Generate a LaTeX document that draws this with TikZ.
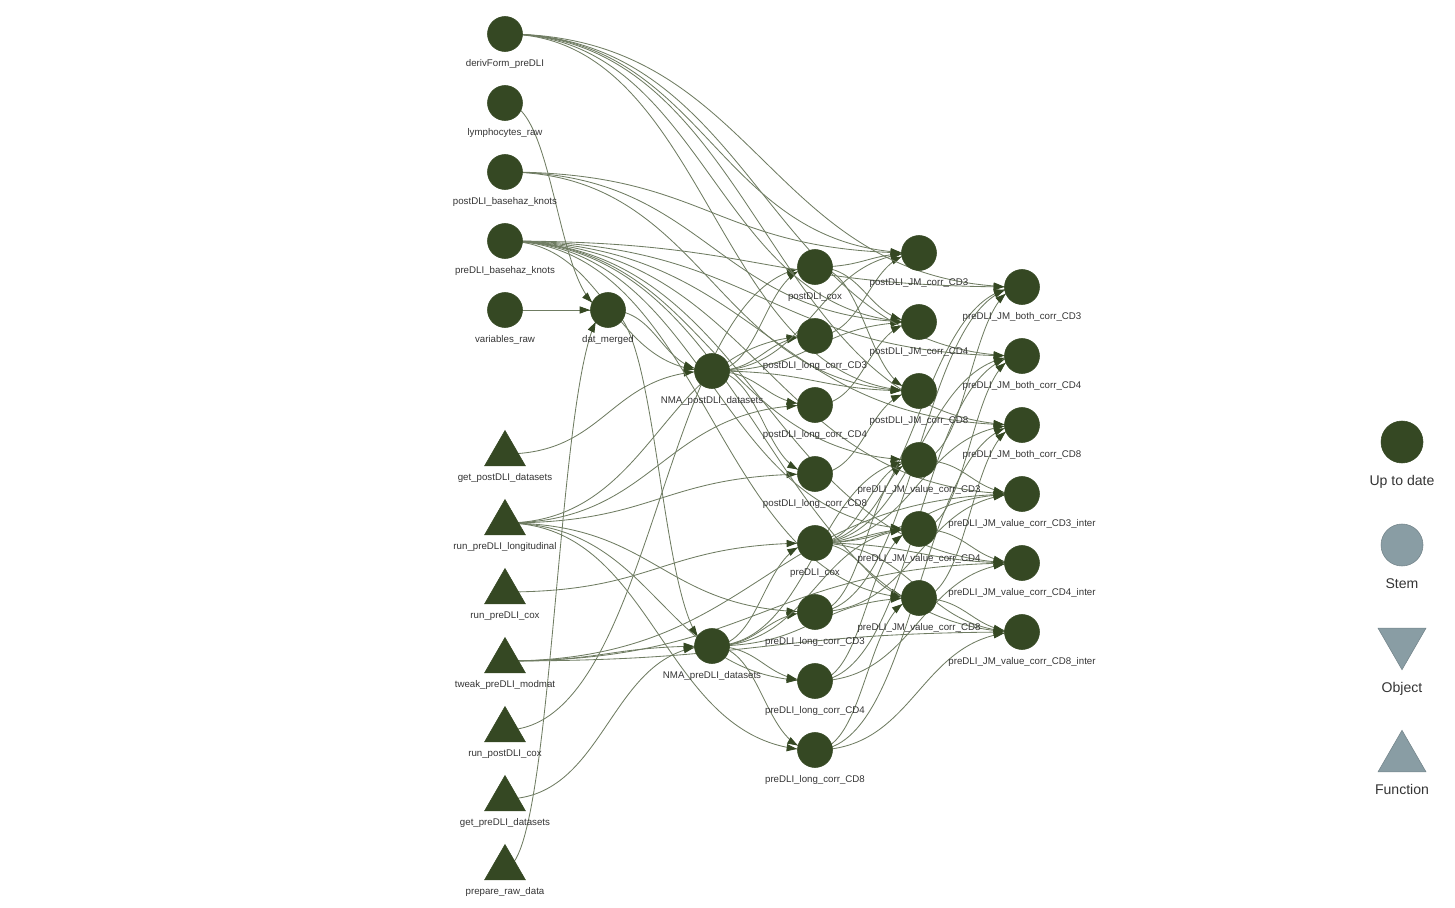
\documentclass[tikz,border=0pt]{standalone}
\usepackage{fontspec}
\setmainfont{Liberation Sans}
\usepackage{xcolor}
\usetikzlibrary{arrows.meta,backgrounds,calc,shapes.geometric,decorations.markings}
\definecolor{nodegreen}{HTML}{354823}
\definecolor{stemgray}{HTML}{899DA4}
\definecolor{edgeline}{HTML}{6F7C62}
\definecolor{labeltext}{HTML}{343434}
\tikzset{
  target/.style={
    circle,
    fill=nodegreen,
    draw=nodegreen,
    line width=0.4pt,
    minimum size=0.875cm,
    inner sep=0pt,
    label distance=0pt
  },
  func/.style={
    target,
    regular polygon,
    regular polygon sides=3,
    minimum size=1.175cm
  },
  every label/.style={font=\fontsize{6.9}{8}\selectfont, text=labeltext, inner sep=0pt, text height=5pt, text depth=1.5pt, yshift=-0.18cm},
  keybox/.style={target, fill=stemgray, draw=stemgray!85!black, minimum size=1.05cm},
  keytri/.style={keybox, regular polygon, regular polygon sides=3, minimum size=1.385cm},
  keytext/.style={font=\fontsize{10}{12}\selectfont, text height=7.2pt, text depth=2pt, yshift=-0.12cm},
  link/.style={
    draw=edgeline,
    line width=0.6pt,
    to path={
      let \p1=(\tikztostart.center), \p2=(\tikztotarget.center)
      in (\p1) .. controls ({0.5*\x1+0.5*\x2},\y1) and ({0.5*\x1+0.5*\x2},\y2) .. (\p2) \tikztonodes},
    decoration={markings,
      mark=at position -0.45cm with {\arrow{Triangle[length=2.6mm,width=1.8mm,color=nodegreen]}}},
    postaction={decorate}
  }
}

\begin{document}
\begin{tikzpicture}[x=0.025cm, y=-0.025cm]
  \useasboundingbox (0,0) rectangle (1455,908);

  % inputs
  \node[target, label={below:derivForm\_preDLI}] (derivform) at (505,34) {};
  \node[target, label={below:lymphocytes\_raw}] (lymphraw) at (505,103) {};
  \node[target, label={below:postDLI\_basehaz\_knots}] (postknots) at (505,172) {};
  \node[target, label={below:preDLI\_basehaz\_knots}] (preknots) at (505,241) {};
  \node[target, label={below:variables\_raw}] (varsraw) at (505,310) {};

  % functions
  \node[func, label={below:get\_postDLI\_datasets}] (getpost) at (505,454) {};
  \node[func, label={below:run\_preDLI\_longitudinal}] (runlong) at (505,523) {};
  \node[func, label={below:run\_preDLI\_cox}] (runprecox) at (505,592) {};
  \node[func, label={below:tweak\_preDLI\_modmat}] (tweak) at (505,661) {};
  \node[func, label={below:run\_postDLI\_cox}] (runpostcox) at (505,730) {};
  \node[func, label={below:get\_preDLI\_datasets}] (getpre) at (505,799) {};
  \node[func, label={below:prepare\_raw\_data}] (prepraw) at (505,868) {};

  % data
  \node[target, label={below:dat\_merged}] (datmerged) at (608,310) {};
  \node[target, label={below:NMA\_postDLI\_datasets}] (nmapost) at (712,371) {};
  \node[target, label={below:NMA\_preDLI\_datasets}] (nmapre) at (712,646) {};

  % cox and longitudinal fits
  \node[target, label={below:postDLI\_cox}] (postcox) at (815,267) {};
  \node[target, label={below:postDLI\_long\_corr\_CD3}] (postlong3) at (815,336) {};
  \node[target, label={below:postDLI\_long\_corr\_CD4}] (postlong4) at (815,405) {};
  \node[target, label={below:postDLI\_long\_corr\_CD8}] (postlong8) at (815,474) {};
  \node[target, label={below:preDLI\_cox}] (precox) at (815,543) {};
  \node[target, label={below:preDLI\_long\_corr\_CD3}] (prelong3) at (815,612) {};
  \node[target, label={below:preDLI\_long\_corr\_CD4}] (prelong4) at (815,681) {};
  \node[target, label={below:preDLI\_long\_corr\_CD8}] (prelong8) at (815,750) {};

  % joint models
  \node[target, label={below:postDLI\_JM\_corr\_CD3}] (postjm3) at (919,253) {};
  \node[target, label={below:postDLI\_JM\_corr\_CD4}] (postjm4) at (919,322) {};
  \node[target, label={below:postDLI\_JM\_corr\_CD8}] (postjm8) at (919,391) {};
  \node[target, label={below:preDLI\_JM\_value\_corr\_CD3}] (prevalue3) at (919,460) {};
  \node[target, label={below:preDLI\_JM\_value\_corr\_CD4}] (prevalue4) at (919,529) {};
  \node[target, label={below:preDLI\_JM\_value\_corr\_CD8}] (prevalue8) at (919,598) {};
  \node[target, label={below:preDLI\_JM\_both\_corr\_CD3}] (preboth3) at (1022,287) {};
  \node[target, label={below:preDLI\_JM\_both\_corr\_CD4}] (preboth4) at (1022,356) {};
  \node[target, label={below:preDLI\_JM\_both\_corr\_CD8}] (preboth8) at (1022,425) {};
  \node[target, label={below:preDLI\_JM\_value\_corr\_CD3\_inter}] (preinter3) at (1022,494) {};
  \node[target, label={below:preDLI\_JM\_value\_corr\_CD4\_inter}] (preinter4) at (1022,563) {};
  \node[target, label={below:preDLI\_JM\_value\_corr\_CD8\_inter}] (preinter8) at (1022,632) {};

  % legend
  \node[keybox, fill=nodegreen, draw=nodegreen, label={[keytext]below:Up to date}] (keydone) at (1402,442) {};
  \node[keybox, label={[keytext]below:Stem}] (keystem) at (1402,545) {};
  \node[keytri, shape border rotate=180, label={[keytext]below:Object}] (keyobject) at (1402,642) {};
  \node[keytri, label={[keytext]below:Function}] (keyfunction) at (1402,758) {};

  \begin{scope}[on background layer]
  % raw data
  \draw[link] (lymphraw) to (datmerged);
  \draw[link] (varsraw) to (datmerged);
  \draw[link] (prepraw) to (datmerged);

  % datasets
  \draw[link] (datmerged) to (nmapost);
  \draw[link] (datmerged) to (nmapre);
  \draw[link] (getpost) to (nmapost);
  \draw[link] (preknots) to (nmapost);
  \draw[link] (getpre) to (nmapre);
  \draw[link] (tweak) to (nmapre);

  % cox and longitudinal fits
  \draw[link] (runpostcox) to (postcox);
  \draw[link] (runprecox) to (precox);
  \draw[link] (nmapost) to (postcox);
  \draw[link] (nmapost) to (postlong3);
  \draw[link] (nmapost) to (postlong4);
  \draw[link] (nmapost) to (postlong8);
  \draw[link] (nmapre) to (precox);
  \draw[link] (nmapre) to (prelong3);
  \draw[link] (nmapre) to (prelong4);
  \draw[link] (nmapre) to (prelong8);
  \draw[link] (runlong) to (postlong3);
  \draw[link] (runlong) to (postlong4);
  \draw[link] (runlong) to (postlong8);
  \draw[link] (runlong) to (prelong3);
  \draw[link] (runlong) to (prelong4);
  \draw[link] (runlong) to (prelong8);

  % postDLI joint models
  \draw[link] (postcox) to (postjm3);
  \draw[link] (postcox) to (postjm4);
  \draw[link] (postcox) to (postjm8);
  \draw[link] (postlong3) to (postjm3);
  \draw[link] (postlong4) to (postjm4);
  \draw[link] (postlong8) to (postjm8);
  \draw[link] (nmapost) to (postjm3);
  \draw[link] (nmapost) to (postjm4);
  \draw[link] (nmapost) to (postjm8);
  \draw[link] (postknots) to (postjm3);
  \draw[link] (postknots) to (postjm4);
  \draw[link] (postknots) to (postjm8);
  \draw[link] (derivform) to (postjm3);
  \draw[link] (derivform) to (postjm4);
  \draw[link] (derivform) to (postjm8);

  % preDLI joint models
  \draw[link] (precox) to (prevalue3);
  \draw[link] (precox) to (prevalue4);
  \draw[link] (precox) to (prevalue8);
  \draw[link] (precox) to (preboth3);
  \draw[link] (precox) to (preboth4);
  \draw[link] (precox) to (preboth8);
  \draw[link] (precox) to (preinter3);
  \draw[link] (precox) to (preinter4);
  \draw[link] (precox) to (preinter8);
  \draw[link] (prelong3) to (prevalue3);
  \draw[link] (prelong3) to (preboth3);
  \draw[link] (prelong3) to (preinter3);
  \draw[link] (prelong4) to (prevalue4);
  \draw[link] (prelong4) to (preboth4);
  \draw[link] (prelong4) to (preinter4);
  \draw[link] (prelong8) to (prevalue8);
  \draw[link] (prelong8) to (preboth8);
  \draw[link] (prelong8) to (preinter8);
  \draw[link] (preknots) to (prevalue3);
  \draw[link] (preknots) to (prevalue4);
  \draw[link] (preknots) to (prevalue8);
  \draw[link] (preknots) to (preboth3);
  \draw[link] (preknots) to (preboth4);
  \draw[link] (preknots) to (preboth8);
  \draw[link] (preknots) to (preinter3);
  \draw[link] (preknots) to (preinter4);
  \draw[link] (preknots) to (preinter8);
  \draw[link] (nmapre) to (prevalue3);
  \draw[link] (nmapre) to (prevalue4);
  \draw[link] (nmapre) to (prevalue8);
  \draw[link] (derivform) to (preboth3);
  \draw[link] (derivform) to (preboth4);
  \draw[link] (derivform) to (preboth8);
  \draw[link] (tweak) to (preinter3);
  \draw[link] (tweak) to (preinter4);
  \draw[link] (tweak) to (preinter8);
  \draw[link] (prevalue3) to (preboth3);
  \draw[link] (prevalue4) to (preboth4);
  \draw[link] (prevalue8) to (preboth8);
  \draw[link] (prevalue3) to (preinter3);
  \draw[link] (prevalue4) to (preinter4);
  \draw[link] (prevalue8) to (preinter8);
  \end{scope}
\end{tikzpicture}
\end{document}
